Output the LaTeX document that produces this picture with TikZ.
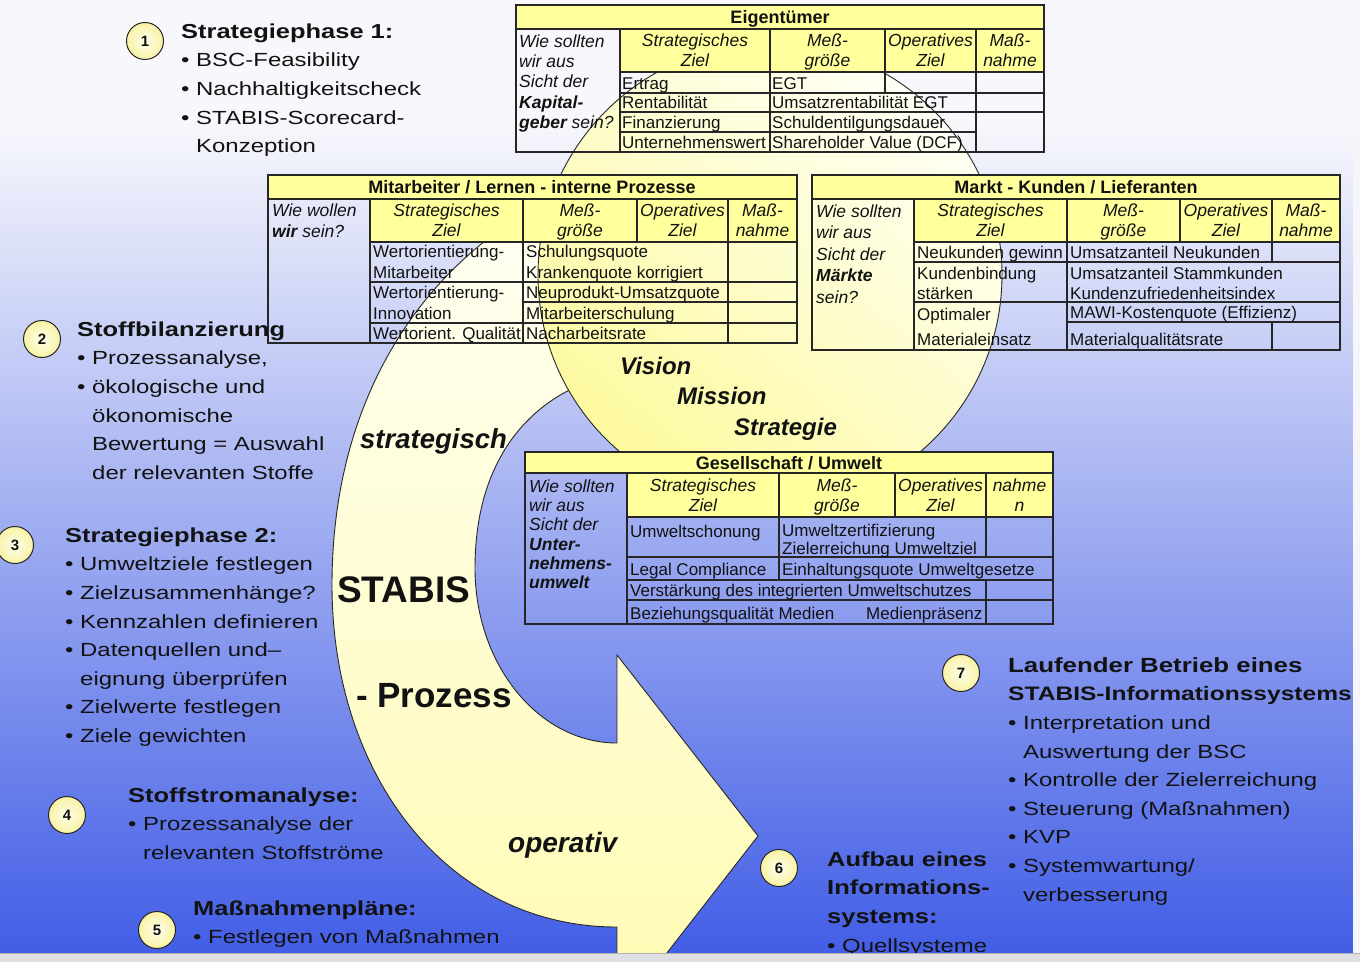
\documentclass[tikz,border=0pt]{standalone}
\usepackage{fontspec}
\setmainfont{Liberation Sans}
\newfontfamily\widesans{Liberation Sans}[FakeStretch=1.26]
\newcommand\tsize[2]{\fontsize{#1}{#2}\selectfont}
\newcommand\bul{\makebox[15pt][l]{•}}
\newcommand\ind{\hspace*{15pt}}
\newcommand\hdg[1]{{\bfseries\tsize{20.2}{28.6}#1}}

\definecolor{hdrY}{RGB}{255,255,156}
\definecolor{circY}{RGB}{253,250,158}
\definecolor{circW}{RGB}{255,255,246}
\definecolor{arrW}{RGB}{255,255,244}
\definecolor{arrY}{RGB}{255,251,178}
\definecolor{bgTop}{RGB}{248,248,252}
\definecolor{bgMid}{RGB}{170,176,241}
\definecolor{bgBot}{RGB}{66,94,230}
\definecolor{ink}{RGB}{18,18,18}
\definecolor{numIn}{RGB}{255,255,235}
\definecolor{numOut}{RGB}{248,242,165}
\definecolor{stripG}{RGB}{224,224,228}
\definecolor{stripW}{RGB}{246,246,250}

\begin{document}
\begin{tikzpicture}[x=1pt,y=-1pt,
  every node/.style={text=ink},
  tline/.style={draw=black!85, line width=1.1pt},
  ttl/.style={anchor=base, inner sep=0, font=\bfseries\tsize{18}{20}},
  hd/.style={anchor=north, inner sep=0, align=center, font=\itshape\tsize{17.5}{20.5}},
  c1/.style={anchor=north west, inner sep=0, align=left, font=\itshape\tsize{17.5}{20.3}},
  dt/.style={anchor=base west, inner sep=0, font=\tsize{17}{20}},
  blk/.style={anchor=north west, inner sep=0, align=left, font=\widesans\tsize{19}{28.6}},
  vis/.style={anchor=base west, inner sep=0, font=\bfseries\itshape\tsize{24}{26}},
  numc/.style={circle, minimum size=37pt, inner sep=0, draw=black!85, line width=1pt,
    inner color=numIn, outer color=numOut, font=\bfseries\tsize{15}{16}}]
\useasboundingbox (0,0) rectangle (1360,962);

% background
\fill[bgTop] (0,0) rectangle (1360,120);
\shade[top color=bgTop, middle color=bgMid, bottom color=bgBot] (0,119.5) rectangle (1360,953);

% curved process arrow, cut off at the lower window edge
\begin{scope}
\clip (0,0) rectangle (1360,953);
\path[draw=black!85, line width=0.9pt, top color=arrW, bottom color=arrY]
  (560,195) .. controls (440,250) and (332,380) .. (332,585)
  .. controls (332,775) and (447,927) .. (617,927)
  -- (617,1017) -- (758,836) -- (617,655) -- (617,743)
  .. controls (539,743) and (475,665) .. (475,568)
  .. controls (475,445) and (545,385) .. (625,372) -- cycle;
\end{scope}

% vision circle
\path[draw=black!85, line width=0.9pt, top color=circW, bottom color=circY, shading angle=-40]
  (770,275) circle (232);

% ---------- Eigentuemer ----------
\fill[hdrY] (516,5) rectangle (1044,29);
\fill[hdrY] (620,29) rectangle (1044,72);
\draw[tline] (516,5) rectangle (1044,152);
\draw[tline] (516,29) -- (1044,29);
\draw[tline] (620,29) -- (620,152);
\draw[tline] (620,72) -- (1044,72);
\draw[tline] (770,29) -- (770,152);
\draw[tline] (885,29) -- (885,93);
\draw[tline] (976,29) -- (976,152);
\draw[tline] (620,93) -- (1044,93);
\draw[tline] (620,112) -- (1044,112);
\draw[tline] (620,132) -- (976,132);
\node[ttl] (e-title) at (780,23.4) {Eigentümer};
\node[c1] (e-q) at (519,32.8) {\strut Wie sollten\\wir aus\\Sicht der\\\textbf{Kapital-}\\\textbf{geber} sein?};
\node[hd] (e-h1) at (695,31.65) {\strut Strategisches\\Ziel};
\node[hd] (e-h2) at (827.5,31.65) {\strut Meß-\\größe};
\node[hd] (e-h3) at (930.5,31.65) {\strut Operatives\\Ziel};
\node[hd] (e-h4) at (1010,31.65) {\strut Maß-\\nahme};
\node[dt] (e-a1) at (622,89) {Ertrag};
\node[dt] (e-b1) at (772,89) {EGT};
\node[dt] (e-a2) at (622,108.5) {Rentabilität};
\node[dt] (e-b2) at (772,108.5) {Umsatzrentabilität EGT};
\node[dt] (e-a3) at (622,128.5) {Finanzierung};
\node[dt] (e-b3) at (772,128.5) {Schuldentilgungsdauer};
\node[dt] (e-a4) at (622,148) {Unternehmenswert};
\node[dt] (e-b4) at (772,148) {Shareholder Value (DCF)};

% ---------- Mitarbeiter ----------
\fill[hdrY] (268,175) rectangle (797,199);
\fill[hdrY] (370,199) rectangle (797,242);
\draw[tline] (268,175) rectangle (797,343);
\draw[tline] (268,199) -- (797,199);
\draw[tline] (370,199) -- (370,343);
\draw[tline] (370,242) -- (797,242);
\draw[tline] (523,199) -- (523,343);
\draw[tline] (637,199) -- (637,242);
\draw[tline] (728,199) -- (728,343);
\draw[tline] (370,282) -- (797,282);
\draw[tline] (523,302) -- (797,302);
\draw[tline] (370,323) -- (797,323);
\node[ttl] (m-title) at (532,193.4) {Mitarbeiter / Lernen - interne Prozesse};
\node[c1, font=\itshape\tsize{17.5}{21}] (m-q) at (272,201.3) {\strut Wie wollen\\\textbf{wir} sein?};
\node[hd] (m-h1) at (446.5,201.65) {\strut Strategisches\\Ziel};
\node[hd] (m-h2) at (580,201.65) {\strut Meß-\\größe};
\node[hd] (m-h3) at (682.5,201.65) {\strut Operatives\\Ziel};
\node[hd] (m-h4) at (762.5,201.65) {\strut Maß-\\nahme};
\node[dt] (m-a1) at (373,257) {Wertorientierung-};
\node[dt] (m-a2) at (373,278) {Mitarbeiter};
\node[dt] (m-a3) at (373,298) {Wertorientierung-};
\node[dt] (m-a4) at (373,319) {Innovation};
\node[dt] (m-a5) at (373,339) {Wertorient. Qualität};
\node[dt] (m-b1) at (526,257) {Schulungsquote};
\node[dt] (m-b2) at (526,278) {Krankenquote korrigiert};
\node[dt] (m-b3) at (526,298) {Neuprodukt-Umsatzquote};
\node[dt] (m-b4) at (526,319) {Mitarbeiterschulung};
\node[dt] (m-b5) at (526,339) {Nacharbeitsrate};

% ---------- Markt ----------
\fill[hdrY] (812,175) rectangle (1340,199);
\fill[hdrY] (914,199) rectangle (1340,242);
\draw[tline] (812,175) rectangle (1340,350);
\draw[tline] (812,199) -- (1340,199);
\draw[tline] (914,199) -- (914,350);
\draw[tline] (914,242) -- (1340,242);
\draw[tline] (1067,199) -- (1067,350);
\draw[tline] (1180,199) -- (1180,242);
\draw[tline] (1272,199) -- (1272,262);
\draw[tline] (1272,322) -- (1272,350);
\draw[tline] (914,262) -- (1340,262);
\draw[tline] (914,302) -- (1340,302);
\draw[tline] (1067,322) -- (1340,322);
\node[ttl] (k-title) at (1076,193.4) {Markt - Kunden / Lieferanten};
\node[c1, font=\itshape\tsize{17.5}{21.5}] (k-q) at (816,201.95) {\strut Wie sollten\\wir aus\\Sicht der\\\textbf{Märkte}\\sein?};
\node[hd] (k-h1) at (990.5,201.65) {\strut Strategisches\\Ziel};
\node[hd] (k-h2) at (1123.5,201.65) {\strut Meß-\\größe};
\node[hd] (k-h3) at (1226,201.65) {\strut Operatives\\Ziel};
\node[hd] (k-h4) at (1306,201.65) {\strut Maß-\\nahme};
\node[dt] (k-a1) at (917,258) {Neukunden gewinn};
\node[dt] (k-a2) at (917,279) {Kundenbindung};
\node[dt] (k-a3) at (917,299) {stärken};
\node[dt] (k-a4) at (917,320) {Optimaler};
\node[dt] (k-a5) at (917,345) {Materialeinsatz};
\node[dt] (k-b1) at (1070,258) {Umsatzanteil Neukunden};
\node[dt] (k-b2) at (1070,279) {Umsatzanteil Stammkunden};
\node[dt] (k-b3) at (1070,299) {Kundenzufriedenheitsindex};
\node[dt] (k-b4) at (1070,318) {MAWI-Kostenquote (Effizienz)};
\node[dt] (k-b5) at (1070,345) {Materialqualitätsrate};

% ---------- Gesellschaft ----------
\fill[hdrY] (525,452) rectangle (1053,473);
\fill[hdrY] (627,473) rectangle (1053,517);
\draw[tline] (525,452) rectangle (1053,624);
\draw[tline] (525,473) -- (1053,473);
\draw[tline] (627,473) -- (627,624);
\draw[tline] (627,517) -- (1053,517);
\draw[tline] (779,473) -- (779,580);
\draw[tline] (895,473) -- (895,517);
\draw[tline] (986,473) -- (986,557);
\draw[tline] (986,580) -- (986,624);
\draw[tline] (627,557) -- (1053,557);
\draw[tline] (627,580) -- (1053,580);
\draw[tline] (627,600) -- (1053,600);
\node[ttl] (g-title) at (789,469) {Gesellschaft / Umwelt};
\node[c1, font=\itshape\tsize{17.5}{19.3}] (g-q) at (529,478.5) {\strut Wie sollten\\wir aus\\Sicht der\\\textbf{Unter-}\\\textbf{nehmens-}\\\textbf{umwelt}};
\node[hd] (g-h1) at (703,476.65) {\strut Strategisches\\Ziel};
\node[hd] (g-h2) at (837,476.65) {\strut Meß-\\größe};
\node[hd] (g-h3) at (940.5,476.65) {\strut Operatives\\Ziel};
\node[hd] (g-h4) at (1019.5,476.65) {\strut nahme\\n};
\node[dt] (g-a1) at (630,537) {Umweltschonung};
\node[dt] (g-b1) at (782,536) {Umweltzertifizierung};
\node[dt] (g-b2) at (782,554) {Zielerreichung Umweltziel};
\node[dt] (g-a2) at (630,575) {Legal Compliance};
\node[dt] (g-b3) at (782,575) {Einhaltungsquote Umweltgesetze};
\node[dt] (g-a3) at (630,596) {Verstärkung des integrierten Umweltschutzes};
\node[dt] (g-a4) at (630,619) {Beziehungsqualität Medien};
\node[dt] (g-b4) at (866,619) {Medienpräsenz};

% ---------- labels on circle and arrow ----------
\node[vis] (t-vision) at (620,374) {Vision};
\node[vis] (t-mission) at (677,404) {Mission};
\node[vis] (t-strategie) at (734,435) {Strategie};
\node[anchor=base west, inner sep=0, font=\bfseries\itshape\tsize{27.5}{30}] (t-strat) at (360,448) {strategisch};
\node[anchor=base west, inner sep=0, font=\bfseries\tsize{37}{40}] (t-stabis) at (337,602) {STABIS};
\node[anchor=base west, inner sep=0, font=\bfseries\tsize{35}{40}] (t-proz) at (356,707) {- Prozess};
\node[anchor=base west, inner sep=0, font=\bfseries\itshape\tsize{28}{30}] (t-oper) at (508,852) {operativ};

% ---------- phase descriptions ----------
\node[blk] (b1) at (181,18) {\strut\hdg{Strategiephase 1:}\\
  \bul BSC-Feasibility\\
  \bul Nachhaltigkeitscheck\\
  \bul STABIS-Scorecard-\\
  \ind Konzeption};
\node[blk] (b2) at (77,316) {\strut\hdg{Stoffbilanzierung}\\
  \bul Prozessanalyse,\\
  \bul ökologische und\\
  \ind ökonomische\\
  \ind Bewertung = Auswahl\\
  \ind der relevanten Stoffe};
\node[blk] (b3) at (65,522) {\strut\hdg{Strategiephase 2:}\\
  \bul Umweltziele festlegen\\
  \bul Zielzusammenhänge?\\
  \bul Kennzahlen definieren\\
  \bul Datenquellen und–\\
  \ind eignung überprüfen\\
  \bul Zielwerte festlegen\\
  \bul Ziele gewichten};
\node[blk] (b4) at (128,782) {\strut\hdg{Stoffstromanalyse:}\\
  \bul Prozessanalyse der\\
  \ind relevanten Stoffströme};
\node[blk] (b5) at (193,895) {\strut\hdg{Maßnahmenpläne:}\\
  \bul Festlegen von Maßnahmen};
\node[blk] (b6) at (827,846) {\strut\hdg{Aufbau eines}\\
  \hdg{Informations-}\\
  \hdg{systems:}\\
  \bul Quellsysteme};
\node[blk] (b7) at (1008,652) {\strut{\bfseries\tsize{20.5}{28.6}Laufender Betrieb eines}\\
  {\bfseries\tsize{19.5}{28.6}STABIS-Informationssystems}\\
  \bul Interpretation und\\
  \ind Auswertung der BSC\\
  \bul Kontrolle der Zielerreichung\\
  \bul Steuerung (Maßnahmen)\\
  \bul KVP\\
  \bul Systemwartung/\\
  \ind verbesserung};

% ---------- step numbers ----------
\node[numc] (n1) at (145,41) {1};
\node[numc] (n2) at (42,339) {2};
\node[numc] (n3) at (15,545) {3};
\node[numc] (n4) at (67,815) {4};
\node[numc] (n5) at (157,930) {5};
\node[numc] (n6) at (779,868) {6};
\node[numc] (n7) at (961,673) {7};

% window edges
\fill[stripW] (1353,0) rectangle (1360,953);
\fill[stripG] (0,953) rectangle (1360,962);
\draw[black!30, line width=0.8pt] (0,953) -- (1360,953);
\end{tikzpicture}
\end{document}
